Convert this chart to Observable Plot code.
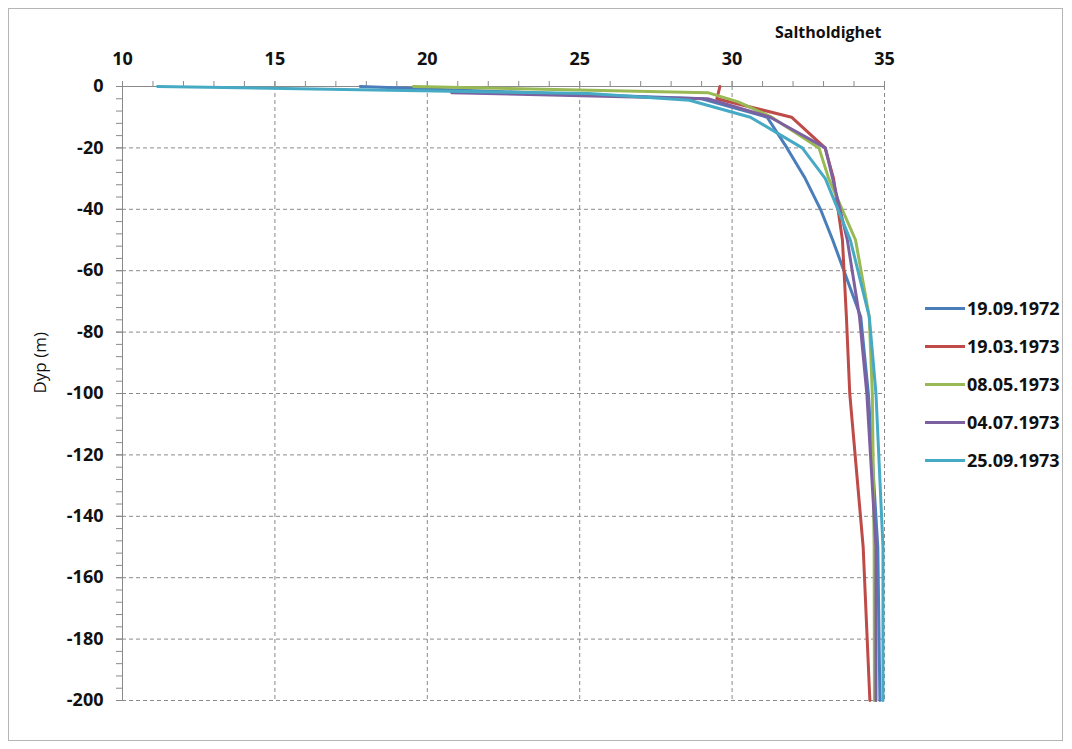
<!DOCTYPE html>
<html><head><meta charset="utf-8">
<script src="https://cdn.jsdelivr.net/npm/d3@7"></script>
<script src="https://cdn.jsdelivr.net/npm/@observablehq/plot@0.6"></script>
<style>
body{margin:0;background:#fff;font-family:"Open Sans",sans-serif;}
#wrap{position:relative;width:1072px;height:749px;}
#frame{position:absolute;left:8px;top:8px;width:1053px;height:731px;border:1px solid #b5b5b5;pointer-events:none;}
#legend{position:absolute;left:925px;top:289px;}
.item{display:flex;align-items:center;height:38px;}
.sw{width:40px;height:3px;margin-right:2px;}
.lab{font-weight:700;font-size:18px;color:#111;font-family:"Open Sans",sans-serif;}
svg{position:absolute;left:0;top:0;}
</style></head><body><div id="wrap"><div id="frame"></div><div id="legend"></div></div>
<script>
const seriesNames = ["19.09.1972", "19.03.1973", "08.05.1973", "04.07.1973", "25.09.1973"];
const seriesColors = ["#4a7ebb", "#be4b48", "#98b954", "#7d60a0", "#46aac5"];

const depth_19091972 = [0, -4, -10, -20, -30, -40, -50, -75, -100, -150, -200];
const sal_19091972   = [17.8, 29.0, 31.15, 31.8, 32.4, 32.9, 33.3, 34.22, 34.47, 34.78, 34.85];

const depth_19031973 = [0, -4, -10, -20, -30, -50, -75, -100, -150, -200];
const sal_19031973   = [29.6, 29.5, 31.95, 33.05, 33.33, 33.62, 33.75, 33.86, 34.3, 34.52];

const depth_08051973 = [0, -2, -5, -10, -20, -30, -50, -75, -100, -150, -200];
const sal_08051973   = [19.55, 29.2, 30.2, 31.3, 32.85, 33.17, 34.05, 34.5, 34.6, 34.66, 34.67];

const depth_04071973 = [-2, -4, -10, -20, -30, -50, -75, -100, -150, -200];
const sal_04071973   = [20.8, 29.2, 31.25, 33.06, 33.3, 33.78, 34.18, 34.42, 34.72, 34.72];

const depth_25091973 = [0, -2.3, -4.5, -10, -20, -30, -50, -75, -100, -150, -200];
const sal_25091973   = [11.15, 25.3, 28.6, 30.6, 32.3, 33.06, 33.88, 34.5, 34.72, 34.95, 34.95];

const xMajorTicks = [10, 15, 20, 25, 30, 35];
const yMajorTicks = [0, -20, -40, -60, -80, -100, -120, -140, -160, -180, -200];
const xMinorTicks = d3.range(10, 36, 1);
const yMinorTicks = d3.range(-200, 1, 4);

const depthLists = [depth_19091972, depth_19031973, depth_08051973, depth_04071973, depth_25091973];
const salLists = [sal_19091972, sal_19031973, sal_08051973, sal_04071973, sal_25091973];

const rows = [];
seriesNames.forEach((name, i) => {
  depthLists[i].forEach((d, j) => rows.push({series: name, depth: d, sal: salLists[i][j]}));
});

const grey = "#8a8a8a";
const chart = Plot.plot({
  width: 1072, height: 749,
  marginLeft: 122, marginRight: 188, marginTop: 86, marginBottom: 49,
  style: {fontFamily: "Open Sans", background: "transparent", color: "#111"},
  x: {domain: [10, 35]},
  y: {domain: [-200, 0]},
  color: {domain: seriesNames, range: seriesColors},
  marks: [
    Plot.gridX(xMajorTicks.filter(v => v > 10), {stroke: grey, strokeOpacity: 1, strokeDasharray: "4,3"}),
    Plot.gridY(yMajorTicks.filter(v => v < 0), {stroke: grey, strokeOpacity: 1, strokeDasharray: "4,3"}),
    Plot.axisX(xMinorTicks, {anchor: "top", tickSize: 6, tickFormat: () => "", stroke: grey, label: null}),
    Plot.axisY(yMinorTicks, {anchor: "left", tickSize: 6, tickFormat: () => "", stroke: grey, label: null}),
    Plot.axisX(xMajorTicks, {anchor: "top", tickSize: 6, tickPadding: 16, fontSize: 18, fontWeight: "bold", fill: "#111", stroke: grey, label: null, tickFormat: d => String(d)}),
    Plot.axisY(yMajorTicks, {anchor: "left", tickSize: 6, tickPadding: 13, fontSize: 18, fontWeight: "bold", fill: "#111", stroke: grey, label: null, tickFormat: d => String(d)}),
    Plot.ruleY([0], {stroke: grey}),
    Plot.ruleX([10], {stroke: grey}),
    Plot.line(rows, {x: "sal", y: "depth", z: "series", stroke: "series", strokeWidth: 3}),
    Plot.text(["Saltholdighet"], {frameAnchor: "top-right", dy: -60, dx: -3, textAnchor: "end", lineAnchor: "top", fontSize: 16, fontWeight: "bold", fill: "#111"}),
    Plot.text(["Dyp (m)"], {frameAnchor: "left", dx: -82, rotate: -90, fontSize: 17, fill: "#111"})
  ]
});
document.getElementById("wrap").appendChild(chart);

const legend = document.getElementById("legend");
seriesNames.forEach((name, i) => {
  const item = document.createElement("div");
  item.className = "item";
  item.innerHTML = `<div class="sw" style="background:${seriesColors[i]}"></div><span class="lab">${name}</span>`;
  legend.appendChild(item);
});
</script>
</body></html>
